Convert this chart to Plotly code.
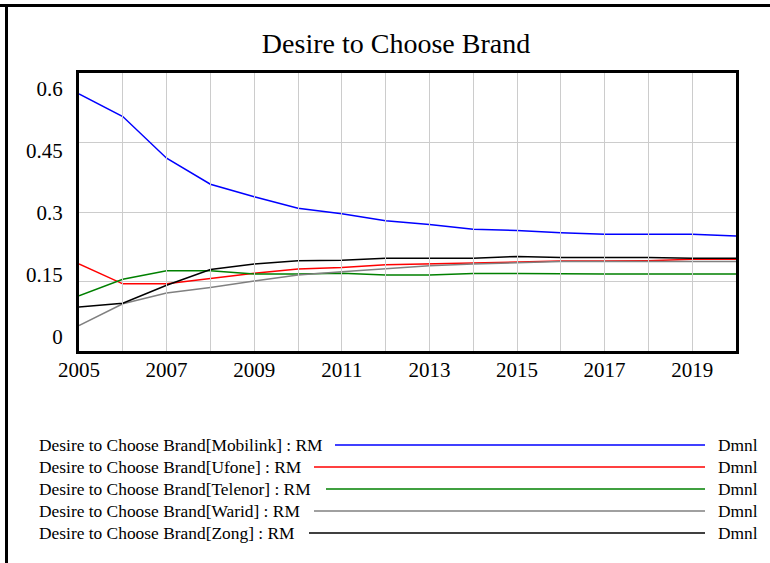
import plotly.graph_objects as go

years = list(range(2005, 2021))
mobilink = [0.555, 0.506, 0.416, 0.360, 0.333, 0.308, 0.296, 0.281, 0.273, 0.263, 0.260, 0.255, 0.252, 0.252, 0.252, 0.248]
ufone    = [0.188, 0.145, 0.145, 0.157, 0.168, 0.177, 0.180, 0.186, 0.188, 0.191, 0.193, 0.194, 0.194, 0.195, 0.198, 0.198]
telenor  = [0.119, 0.155, 0.173, 0.173, 0.166, 0.166, 0.168, 0.164, 0.164, 0.167, 0.167, 0.166, 0.166, 0.166, 0.166, 0.166]
warid    = [0.055, 0.102, 0.125, 0.137, 0.151, 0.164, 0.171, 0.178, 0.184, 0.188, 0.191, 0.193, 0.193, 0.193, 0.193, 0.193]
zong     = [0.095, 0.103, 0.142, 0.176, 0.188, 0.195, 0.196, 0.200, 0.200, 0.200, 0.204, 0.202, 0.202, 0.202, 0.200, 0.200]

series_names = ["Mobilink", "Ufone", "Telenor", "Warid", "Zong"]
series_values = [mobilink, ufone, telenor, warid, zong]
series_colors = ["#0000ff", "#ff0000", "#008000", "#808080", "#000000"]
legend_labels = ["Desire to Choose Brand[%s] : RM" % n for n in series_names]
unit_label = "Dmnl"
title_text = "Desire to Choose Brand"
x_tick_vals = list(range(2005, 2020, 2))
y_tick_vals = [0, 0.15, 0.3, 0.45, 0.6]
y_tick_text = ["0", "0.15", "0.3", "0.45", "0.6"]

W, H = 770, 563
L, R, T, B = 79, 736, 73, 351
FONT = "Liberation Serif, Times New Roman, serif"

def px(x):
    return (x - L) / (R - L)

def py(y):
    return (B - y) / (B - T)

fig = go.Figure()
for name, vals, col in zip(series_names, series_values, series_colors):
    fig.add_trace(go.Scatter(x=years, y=vals, mode="lines", name=name,
                             line=dict(color=col, width=1.5), showlegend=False))

# carrier for the y tick-label axis (no visible marks)
fig.add_trace(go.Scatter(x=[None], y=[None], yaxis="y2", mode="lines", showlegend=False,
                         hoverinfo="skip"))

fig.update_layout(
    width=W, height=H,
    margin=dict(l=L, r=W - R, t=T, b=H - B),
    paper_bgcolor="white", plot_bgcolor="rgba(0,0,0,0)",
    font=dict(family=FONT, color="black"),
    title=dict(text=title_text, x=396 / W, xanchor="center", y=1 - 43 / H, yanchor="middle",
               font=dict(family=FONT, size=28, color="black")),
    xaxis=dict(range=[2005, 2020], tickvals=x_tick_vals, showgrid=True, gridcolor="#cccccc", gridwidth=1,
               minor=dict(dtick=1, tick0=2005, showgrid=True, gridcolor="#cccccc", gridwidth=1),
               showline=True, mirror=True, linecolor="black", linewidth=3,
               ticks="", ticklabelstandoff=-2,
               tickfont=dict(family=FONT, size=21, color="black"), zeroline=False),
    yaxis=dict(range=[0, 0.6], tickvals=[0.15, 0.3, 0.45], showticklabels=False, showgrid=True,
               gridcolor="#cccccc", gridwidth=1, showline=True, mirror=True, linecolor="black",
               linewidth=3, ticks="", zeroline=False),
    yaxis2=dict(range=[0, 0.6], domain=[(B - 336.7) / (B - T), (B - 88.3) / (B - T)],
                anchor="free", position=0, side="left", tickvals=y_tick_vals, ticktext=y_tick_text,
                showgrid=False, showline=False, zeroline=False, ticks="outside", ticklen=12,
                tickcolor="rgba(0,0,0,0)", tickfont=dict(family=FONT, size=21, color="black")),
)

# outer frame (top and left edges)
fig.add_shape(type="line", xref="paper", yref="paper", x0=px(0), x1=px(W), y0=py(5.5), y1=py(5.5),
              line=dict(color="black", width=3))
fig.add_shape(type="line", xref="paper", yref="paper", x0=px(6.5), x1=px(6.5), y0=py(4), y1=py(H),
              line=dict(color="black", width=3))

# custom legend
row_y = [445, 467, 489, 511, 533]
line_start = [335, 314, 326, 314, 309]
for lab, col, yy, xs in zip(legend_labels, series_colors, row_y, line_start):
    fig.add_annotation(text=lab, xref="paper", yref="paper", x=px(37), y=py(yy), xanchor="left",
                       yanchor="middle", showarrow=False, font=dict(family=FONT, size=17.4, color="black"))
    fig.add_shape(type="line", xref="paper", yref="paper", x0=px(xs), x1=px(705), y0=py(yy), y1=py(yy),
                  line=dict(color=col, width=1.5))
    fig.add_annotation(text=unit_label, xref="paper", yref="paper", x=px(716), y=py(yy), xanchor="left",
                       yanchor="middle", showarrow=False, font=dict(family=FONT, size=17.4, color="black"))

fig.write_html("out.html", config={"displayModeBar": False},
               post_script="document.body.style.margin='0';")
